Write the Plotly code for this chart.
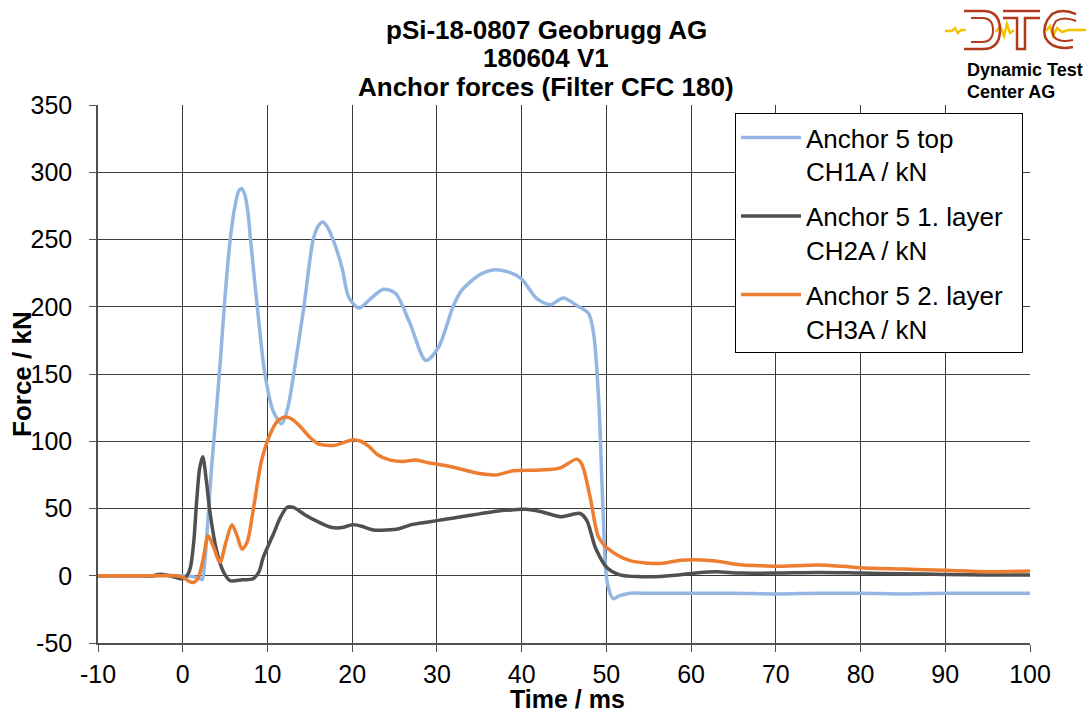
import plotly.graph_objects as go

# ---------------- data ----------------
t_top = [-10, -5, 0, 1.5, 2.0, 2.3, 2.6, 2.9, 3.4, 4.0, 4.5, 4.9, 5.6, 6.2, 6.6, 6.9, 7.3, 7.7, 8.0, 8.8, 9.7,
         10.7, 11.7, 12.4, 13.1, 14.3, 15.4, 16.0, 16.5, 17.0, 17.8, 18.8, 19.6, 20.8, 22.0, 23.7, 25.1, 26.8,
         28.7, 30.2, 31.9, 32.9, 35.1, 36.9, 38.6, 40.0, 41.8, 43.4, 44.9, 46.5, 47.9, 48.5, 49.1,
         49.6, 50.1, 50.8, 51.5, 52.8, 55, 60, 65, 70, 75, 80, 85, 90, 95, 100]
f_top = [0, 0, 0, -1, -2, -3, 10, 35, 80, 125, 165, 200, 250, 276, 286, 288, 284, 270, 250, 200, 150,
         122, 113, 125, 150, 200, 250, 260, 263, 260, 249, 229, 207, 199, 205, 213, 210, 188,
         160, 170, 200, 212, 224, 227.5, 225.5, 220.6, 206, 201.5, 206.5, 201, 195, 180, 130,
         50, -5, -17, -15, -13, -13, -13, -13, -13.5, -13, -13, -13.5, -13, -13, -13]

t_l1 = [-10, -5, -3.5, -2.7, -1.5, 0, 0.5, 0.9, 1.3, 1.65, 2.0, 2.36, 2.8, 3.2, 4.0, 4.8, 5.6, 7,
        8.3, 9.0, 9.5, 10.7, 11.5, 12.3, 13, 14.5, 16, 17.5, 19, 20, 21, 22.5, 24, 25.5, 27, 29,
        31, 33, 35, 37, 39, 40.5, 42.2, 44.6, 46.9, 47.7, 48.7, 50.05, 51.6, 54, 56.4, 58.5,
        61.1, 63, 65.8, 70, 75, 80, 85, 90, 95, 100]
f_l1 = [0, 0, 0, 1.2, 0, -2.3, 0, 6, 25, 56, 80, 88.5, 70, 48, 18.6, 3, -3.7, -3,
        -2.2, 3, 13.6, 31, 43, 50.8, 51, 45, 40, 36, 36, 38, 37, 34, 34, 35, 38, 40,
        42, 44, 46, 48, 49, 49.5, 47.8, 43.9, 46.3, 41, 21, 6.2, 0.7, -0.7, -0.5, 0.5,
        2.5, 3, 2, 2, 2.5, 2, 1.5, 1, 0.5, 0.5]

t_l2 = [-10, -5, -1, 0, 0.7, 1.25, 1.8, 2.4, 3.0, 3.6, 4.4, 5.1, 5.8, 6.4, 7.0, 7.6, 8.3, 8.8,
        9.3, 10.3, 11.2, 12.2, 13, 14, 15, 16, 17, 18, 19, 20, 21, 22, 23, 24.5, 26, 27.5, 29,
        31, 33, 35, 37, 39, 42.2, 44.5, 46.5, 47.1, 48.1, 49.1, 50.5, 52.8, 56.4, 58.8, 62.6,
        65.8, 68, 70, 75, 78, 80, 85, 90, 95, 100]
f_l2 = [0, 0, 0, -1, -4, -5, -2, 12, 29.7, 22, 10, 25, 38, 30, 19.8, 25, 48, 68,
        85.5, 105, 115, 118, 116, 110, 103, 98, 97, 97, 99, 101, 100, 96, 90, 86, 85, 86, 84,
        82, 79, 76, 75, 78, 78.6, 80, 86.7, 83, 58, 28.5, 18.6, 11.2, 9.2, 11.6, 11.2,
        8.2, 7.5, 7, 8, 7, 6, 5, 4, 3, 3.5]

series_names = ["Anchor 5 top<br>CH1A / kN", "Anchor 5 1. layer&nbsp;&nbsp;<br>CH2A / kN", "Anchor 5 2. layer<br>CH3A / kN"]
series_colors = ["#93B7E2", "#505050", "#ED7D31"]

x_ticks = list(range(-10, 101, 10))
y_ticks = list(range(-50, 351, 50))

title_lines = ["pSi-18-0807 Geobrugg AG", "180604 V1", "Anchor forces (Filter CFC 180)"]
x_title = "Time / ms"
y_title = "Force / kN"

# ---------------- figure ----------------
W, H = 1091, 715
L, R, T, B = 98, 61, 105, 72
PW, PH = W - L - R, H - T - B

def px(x):
    return (x - L) / PW

def py(y):
    return (H - B - y) / PH

FONT = "Liberation Sans, Arial, sans-serif"

fig = go.Figure()
for t, f, name, col in zip([t_top, t_l1, t_l2], [f_top, f_l1, f_l2], series_names, series_colors):
    fig.add_trace(go.Scatter(x=t, y=f, mode="lines", name=name, legendgroup=name,
                             line=dict(color=col, width=3.5, shape="spline", smoothing=0.8)))

axis_common = dict(showline=True, linecolor="#505050", linewidth=1.5, mirror=False,
                   showgrid=True, gridcolor="#3c3c3c", gridwidth=1,
                   ticks="outside", ticklen=7, tickcolor="#505050", zeroline=False,
                   tickfont=dict(family=FONT, size=25, color="black"))

fig.update_xaxes(range=[-10, 100], tickvals=x_ticks, ticktext=[str(v) for v in x_ticks],
                 ticklabelstandoff=1, **axis_common)
fig.update_yaxes(range=[-50, 350], tickvals=y_ticks, ticktext=[str(v) for v in y_ticks],
                 ticklabelstandoff=12, **axis_common)

annotations = []
title_y = [30, 58, 87]
for line, yy in zip(title_lines, title_y):
    annotations.append(dict(text="<b>%s</b>" % line, x=px(546), y=py(yy), xref="paper", yref="paper",
                            xanchor="center", yanchor="middle", showarrow=False,
                            font=dict(family=FONT, size=26, color="black")))
annotations.append(dict(text="<b>%s</b>" % x_title, x=px(567), y=py(715), xref="paper", yref="paper",
                        xanchor="center", yanchor="bottom", showarrow=False,
                        font=dict(family=FONT, size=25, color="black")))
annotations.append(dict(text="<b>%s</b>" % y_title, x=px(22), y=py(374), xref="paper", yref="paper",
                        xanchor="center", yanchor="middle", showarrow=False, textangle=-90,
                        font=dict(family=FONT, size=26, color="black")))
# logo texts
annotations.append(dict(text="<b>Dynamic Test</b>", x=px(965), y=py(70), xref="paper", yref="paper",
                        xanchor="left", yanchor="middle", showarrow=False,
                        font=dict(family=FONT, size=18, color="black")))
annotations.append(dict(text="<b>Center AG</b>", x=px(965), y=py(92), xref="paper", yref="paper",
                        xanchor="left", yanchor="middle", showarrow=False,
                        font=dict(family=FONT, size=18, color="black")))

# logo graphics: yellow signal line and red outlined letters
def P(x, y):
    return "%.4f %.4f" % (px(x), py(y))

zig = [(945, 31), (952, 31), (955, 28), (958, 33), (961, 30), (966, 30)]
zig2 = [(996, 32), (1000, 26), (1004, 36), (1007, 24), (1010, 33), (1014, 30)]
zig3 = [(1046, 31), (1050, 26), (1053, 36), (1057, 28), (1062, 32), (1068, 30), (1086, 30)]
shapes = []
for seg in [zig, zig2, zig3]:
    path = "M " + " L ".join(P(x, y) for x, y in seg)
    shapes.append(dict(type="path", path=path, xref="paper", yref="paper",
                       line=dict(color="#F6C200", width=2.5)))
red = "#B23A1C"
# D
shapes.append(dict(type="path", xref="paper", yref="paper", line=dict(color=red, width=2.5),
                   path="M " + P(964, 11) + " L " + P(983, 11) + " Q " + P(1000, 11) + " " + P(1000, 30)
                        + " Q " + P(1000, 49) + " " + P(983, 49) + " L " + P(964, 49)))
shapes.append(dict(type="path", xref="paper", yref="paper", line=dict(color=red, width=2),
                   path="M " + P(971, 18) + " L " + P(982, 18) + " Q " + P(993, 18) + " " + P(993, 30)
                        + " Q " + P(993, 42) + " " + P(982, 42) + " L " + P(971, 42)))
# T
shapes.append(dict(type="path", xref="paper", yref="paper", line=dict(color=red, width=2.5),
                   path="M " + P(1003, 11) + " L " + P(1040, 11) + " M " + P(1003, 18) + " L " + P(1017, 18)
                        + " L " + P(1017, 49) + " L " + P(1025, 49) + " L " + P(1025, 18) + " L " + P(1040, 18)))
# C
shapes.append(dict(type="path", xref="paper", yref="paper", line=dict(color=red, width=2.5),
                   path="M " + P(1076, 14) + " Q " + P(1062, 8) + " " + P(1052, 14) + " Q " + P(1042, 24) + " " + P(1045, 37)
                        + " Q " + P(1052, 51) + " " + P(1073, 47)))
shapes.append(dict(type="path", xref="paper", yref="paper", line=dict(color=red, width=2),
                   path="M " + P(1076, 21) + " Q " + P(1064, 16) + " " + P(1056, 21) + " Q " + P(1050, 30) + " " + P(1054, 37)
                        + " Q " + P(1060, 43) + " " + P(1073, 40)))

fig.update_layout(
    width=W, height=H,
    margin=dict(l=L, r=R, t=T, b=B, autoexpand=False),
    paper_bgcolor="white", plot_bgcolor="white",
    showlegend=True,
    legend=dict(x=px(735), y=py(113), xanchor="left", yanchor="top",
                bgcolor="white", bordercolor="black", borderwidth=1,
                font=dict(family=FONT, size=26, color="black"),
                traceorder="grouped", tracegroupgap=8, valign="top", itemwidth=60),
    annotations=annotations, shapes=shapes,
    font=dict(family=FONT),
)

fig.write_html("out.html", config={"displayModeBar": False},
               post_script="document.body.style.margin='0px';")
